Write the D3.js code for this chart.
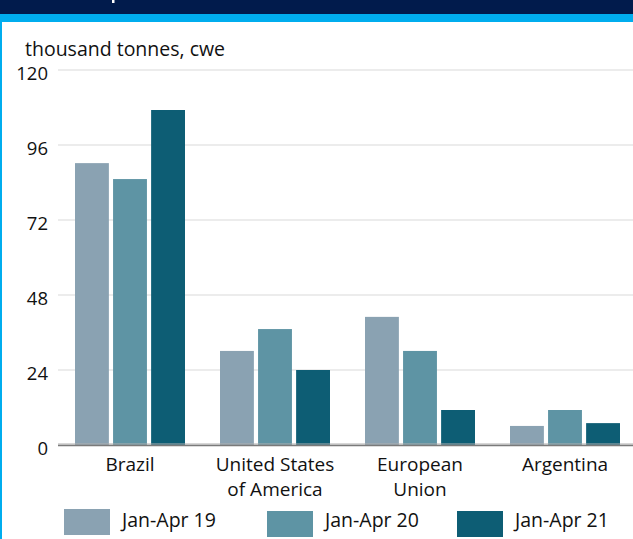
<!DOCTYPE html>
<html>
<head>
<meta charset="utf-8">
<script src="https://cdn.jsdelivr.net/npm/d3@7"></script>
<style>
  body { margin: 0; background: #fff; }
  svg { display: block; font-family: "Open Sans", sans-serif; }
</style>
</head>
<body>
<svg id="chart" width="633" height="539"></svg>
<script>
var categories = [["Brazil"], ["United States", "of America"], ["European", "Union"], ["Argentina"]];
var series = ["Jan-Apr 19", "Jan-Apr 20", "Jan-Apr 21"];
var jan19 = [90.2, 30.1, 41, 6.1];
var jan20 = [85.1, 37.1, 30.1, 11.2];
var jan21 = [107.2, 24, 11.2, 7];
var yTicks = [0, 24, 48, 72, 96, 120];
var colors = ["#8aa2b2", "#5e94a4", "#0d5d74"];

function draw() {
  var svg = d3.select("#chart");
  var values = [jan19, jan20, jan21];

  // header bands
  svg.append("rect").attr("x", 0).attr("y", 0).attr("width", 633).attr("height", 14).attr("fill", "#011b4c");
  svg.append("rect").attr("x", 0).attr("y", 14).attr("width", 633).attr("height", 8).attr("fill", "#00adee");
  svg.append("rect").attr("x", 0).attr("y", 22).attr("width", 2).attr("height", 517).attr("fill", "#00adee");
  svg.append("rect").attr("x", 112).attr("y", 0).attr("width", 2.5).attr("height", 3).attr("fill", "#fff");

  var x0 = d3.scaleBand().domain(d3.range(categories.length)).range([57.5, 637.5]).paddingInner(0).paddingOuter(0);
  var x1 = d3.scaleBand().domain(d3.range(series.length)).range([0, x0.bandwidth()]).paddingInner(0.11).paddingOuter(0.46);
  var y = d3.scaleLinear().domain([0, 120]).range([445, 70]);

  // gridlines
  svg.append("g").selectAll("line").data(yTicks.filter(d => d > 0)).enter().append("line")
    .attr("x1", 58).attr("x2", 633)
    .attr("y1", d => y(d)).attr("y2", d => y(d))
    .attr("stroke", "#d9d9d9").attr("stroke-width", 1.2);

  // y tick labels
  svg.append("g").selectAll("text").data(yTicks).enter().append("text")
    .attr("x", 48).attr("y", d => y(d) + 10)
    .attr("text-anchor", "end")
    .attr("font-size", 18.5).attr("fill", "#111")
    .text(d => d);

  svg.append("text").attr("x", 25).attr("y", 56)
    .attr("font-size", 19.5).attr("fill", "#111")
    .text("thousand tonnes, cwe");

  // bars
  var groups = svg.append("g").selectAll("g").data(categories).enter().append("g")
    .attr("transform", (d, i) => "translate(" + x0(i) + ",0)");
  groups.selectAll("rect").data((d, i) => values.map((s, k) => ({k: k, v: s[i]}))).enter().append("rect")
    .attr("x", d => x1(d.k))
    .attr("width", x1.bandwidth())
    .attr("y", d => y(d.v))
    .attr("height", d => y(0) - y(d.v))
    .attr("fill", d => colors[d.k]);

  // baseline
  svg.append("line").attr("x1", 58).attr("x2", 633).attr("y1", 444).attr("y2", 444)
    .attr("stroke", "#b0b0b0").attr("stroke-width", 1.2);
  svg.append("line").attr("x1", 58).attr("x2", 633).attr("y1", 445.5).attr("y2", 445.5)
    .attr("stroke", "#7a7a7a").attr("stroke-width", 1.4);

  // category labels
  groups.each(function(d, i) {
    var t = d3.select(this).append("text")
      .attr("text-anchor", "middle")
      .attr("font-size", 19).attr("fill", "#111");
    d.forEach(function(line, j) {
      t.append("tspan").attr("x", x0.bandwidth() / 2).attr("y", 471 + j * 24.5).text(line);
    });
  });

  // legend
  var legX = [64, 267, 457];
  var leg = svg.append("g").selectAll("g").data(series).enter().append("g")
    .attr("transform", (d, i) => "translate(" + legX[i] + "," + (i == 0 ? 509 : 511) + ")");
  leg.append("rect").attr("width", 46).attr("height", 26).attr("fill", (d, i) => colors[i]);
  leg.append("text").attr("x", 58).attr("y", (d, i) => i == 0 ? 17.5 : 16).attr("font-size", 19.5).attr("fill", "#111").text(d => d);
}

draw();
</script>
</body>
</html>
